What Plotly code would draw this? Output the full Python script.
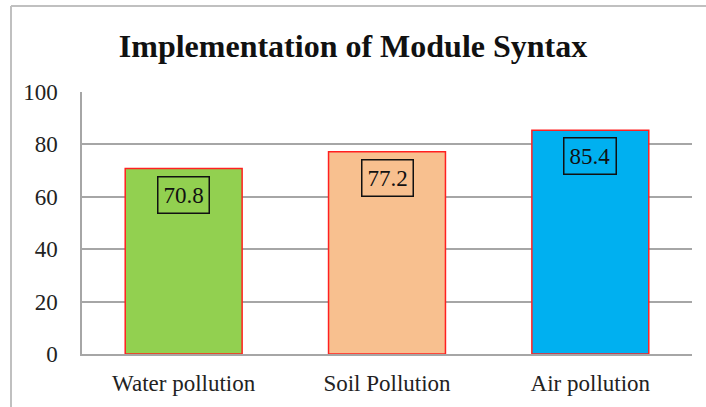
import plotly.graph_objects as go

categories = ["Water pollution", "Soil Pollution", "Air pollution"]
values = [70.8, 77.2, 85.4]
bar_colors = ["#92D050", "#F8C08F", "#00B0F0"]
tick_vals = [0, 20, 40, 60, 80, 100]
title_text = "Implementation of Module Syntax"

FONT = "Liberation Serif, Times New Roman, serif"

fig = go.Figure()
fig.add_trace(go.Bar(
    x=categories, y=values,
    marker=dict(color=bar_colors, line=dict(color="#FF2020", width=1.5)),
    width=0.575, hoverinfo="skip",
))

for c, v in zip(categories, values):
    fig.add_annotation(
        x=c, y=v, yanchor="top", yshift=-7, showarrow=False,
        text=f"{v:.1f}", font=dict(family=FONT, size=23, color="#111111"),
        bordercolor="#111111", borderwidth=1.5, borderpad=5,
    )

# outer frame (partially visible: left and top edges)
fig.add_shape(type="line", xref="paper", yref="paper",
              x0=-0.1164, x1=1.2, y0=1.328, y1=1.328,
              line=dict(color="#C0C0C0", width=2))
fig.add_shape(type="line", xref="paper", yref="paper",
              x0=-0.1164, x1=-0.1164, y0=-0.5, y1=1.328,
              line=dict(color="#C0C0C0", width=2))

fig.update_layout(
    width=706, height=407,
    margin=dict(l=82, r=14, t=92, b=53),
    paper_bgcolor="white", plot_bgcolor="white",
    showlegend=False,
    title=dict(text=f"<b>{title_text}</b>", x=0.5, xanchor="center",
               y=1 - 46 / 407, yanchor="middle",
               font=dict(family=FONT, size=32, color="#111111")),
    xaxis=dict(showgrid=False, showline=True, linecolor="#A6A6A6", linewidth=1.5,
               tickfont=dict(family=FONT, size=23, color="#222222"),
               ticklabelstandoff=8, fixedrange=True),
    yaxis=dict(range=[0, 100], tickvals=tick_vals, showgrid=True,
               gridcolor="#A6A6A6", gridwidth=1.5, zeroline=False,
               showline=True, linecolor="#A6A6A6", linewidth=1.5,
               tickfont=dict(family=FONT, size=23, color="#222222"),
               ticklabelstandoff=18, fixedrange=True),
)

fig.write_html("out.html", config={"displayModeBar": False},
               post_script="document.body.style.margin='0';document.body.style.overflow='hidden';")
